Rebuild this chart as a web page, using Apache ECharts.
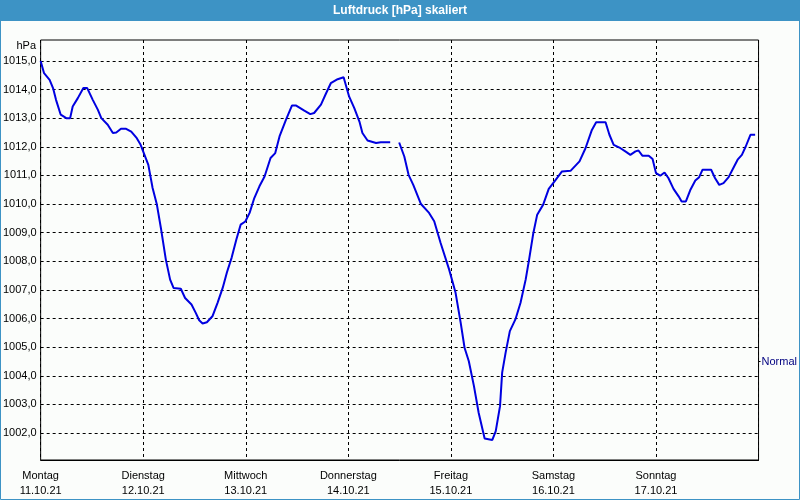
<!DOCTYPE html>
<html>
<head>
<meta charset="utf-8">
<script src="https://cdn.jsdelivr.net/npm/echarts@6/dist/echarts.min.js"></script>
<style>
html,body{margin:0;padding:0;background:#fbfdfb;}
#chart{width:800px;height:500px;}
</style>
</head>
<body>
<div id="chart"></div>
<script>
// hours since Monday 11.10.21 00:00
var hours = [0,0.8,2.1,2.9,3.6,4.7,6.0,6.9,7.5,8.7,10.0,10.9,12.2,13.4,14.2,15.7,16.9,17.7,18.8,20.0,21.2,22.5,23.4,
  24.3,25.2,26.2,27.2,28.2,29.3,30.3,31.1,32.8,33.8,35.3,36.3,37.1,37.9,38.9,40.2,41.4,42.6,43.6,44.7,45.8,46.8,47.9,
  48.9,50.0,51.2,52.4,53.8,54.9,55.9,57.4,58.8,59.8,61.7,63.1,64.0,65.6,66.8,67.9,69.5,70.9,
  72.2,73.4,74.6,75.3,76.5,78.5,79.6,81.8,82.8,83.9,85.1,86.1,87.2,89.0,90.9,92.1,93.6,95.6,
  97.1,98.3,99.2,100.2,101.4,102.5,103.9,105.7,106.5,107.5,108.0,108.8,109.8,111.1,112.3,113.5,114.3,115.3,116.2,117.6,118.9,
  120.3,122.0,124.0,126.1,127.5,129.0,130.0,132.2,133.1,134.1,135.7,137.0,138.0,139.2,139.9,140.8,142.3,143.2,
  144.0,145.0,146.0,146.9,148.1,149.3,150.0,151.0,152.0,153.2,154.1,154.9,156.9,157.8,158.8,159.8,161.0,162.1,163.1,164.1,165.0,166.1,167.2];
var pressure = [1015.0,1014.57,1014.34,1014.05,1013.64,1013.12,1013.0,1013.0,1013.41,1013.70,1014.05,1014.05,1013.64,1013.29,1013.0,1012.77,1012.48,1012.50,1012.63,1012.63,1012.53,1012.30,1012.07,
  1011.72,1011.37,1010.56,1009.98,1009.11,1008.06,1007.36,1007.07,1007.04,1006.72,1006.49,1006.20,1005.94,1005.83,1005.87,1006.08,1006.55,1007.07,1007.62,1008.13,1008.76,1009.28,1009.39,
  1009.69,1010.21,1010.62,1010.96,1011.61,1011.78,1012.36,1012.94,1013.44,1013.44,1013.26,1013.14,1013.18,1013.47,1013.87,1014.22,1014.36,1014.43,
  1013.75,1013.35,1012.88,1012.48,1012.22,1012.13,1012.16,1012.16,null,1012.15,1011.66,1011.02,1010.67,1010.0,1009.69,1009.40,1008.64,1007.71,
  1006.90,1005.85,1004.98,1004.51,1003.64,1002.71,1001.81,1001.76,1002.07,1002.94,1004.11,1004.80,1005.56,1005.97,1006.55,1007.36,1008.06,1008.99,1009.63,1009.98,1010.53,
  1010.80,1011.14,1011.16,1011.49,1011.95,1012.59,1012.86,1012.86,1012.42,1012.07,1011.95,1011.82,1011.72,1011.84,1011.87,1011.69,1011.69,1011.57,
  1011.08,1010.99,1011.10,1010.91,1010.53,1010.27,1010.09,1010.09,1010.48,1010.82,1010.94,1011.20,1011.20,1010.91,1010.67,1010.73,1010.94,1011.26,1011.55,1011.72,1012.01,1012.42,1012.42];
var dayNames = ['Montag','Dienstag','Mittwoch','Donnerstag','Freitag','Samstag','Sonntag'];
var dayDates = ['11.10.21','12.10.21','13.10.21','14.10.21','15.10.21','16.10.21','17.10.21'];
var yTicks = [1002,1003,1004,1005,1006,1007,1008,1009,1010,1011,1012,1013,1014,1015];
var normalValue = [1004.5];
var yMin = 1001.06, yMax = 1015.73;

var data = hours.map(function(h,i){ return [h, pressure[i]]; });
var font = '"Liberation Sans", Arial, sans-serif';

var chart = echarts.init(document.getElementById('chart'), null, {renderer:'canvas'});
chart.setOption({
  backgroundColor: '#fbfdfb',
  animation: false,
  textStyle: {fontFamily: font},
  graphic: [
    {type:'rect', shape:{x:0,y:0,width:800,height:21}, style:{fill:'#3d93c5'}, z:0},
    {type:'rect', shape:{x:0.5,y:0.5,width:799,height:499}, style:{fill:null, stroke:'#3d93c5', lineWidth:1}, z:0},
    {type:'text', x:400, y:11, style:{text:'Luftdruck [hPa] skaliert', fill:'#ffffff', font:'bold 12px '+font, align:'center', verticalAlign:'middle'}, z:5},
    {type:'text', x:36, y:46, style:{text:'hPa', fill:'#000000', font:'11px '+font, align:'right', verticalAlign:'middle'}, z:5}
  ],
  grid: {left:40, top:40, width:720, height:420, show:true, borderColor:'#000', borderWidth:1, backgroundColor:'#fbfdfb'},
  xAxis: {
    type:'value', min:0, max:168, interval:24,
    axisLine:{show:true, lineStyle:{color:'#000', width:1}},
    axisTick:{show:false},
    splitLine:{show:true, lineStyle:{color:'#000', type:[3,3], width:1}},
    axisLabel:{
      color:'#000', fontSize:11, fontFamily:font, lineHeight:15, margin:8,
      showMaxLabel:false,
      formatter:function(v){ var i=Math.round(v/24); return i<dayNames.length ? dayNames[i]+'\n'+dayDates[i] : ''; }
    }
  },
  yAxis: [{
    type:'value', min:yMin, max:yMax,
    axisLine:{show:false},
    axisTick:{show:false, customValues: yTicks},
    splitLine:{show:true, lineStyle:{color:'#000', type:[3,3], width:1}},
    axisLabel:{color:'#000', fontSize:11, fontFamily:font, margin:4, customValues: yTicks,
      formatter:function(v){ return v.toFixed(1).replace('.', ','); }}
  },{
    type:'value', min:yMin, max:yMax, position:'right',
    axisLine:{show:false},
    splitLine:{show:false},
    axisTick:{show:true, length:2, customValues: normalValue, lineStyle:{color:'#000'}},
    axisLabel:{color:'#000080', fontSize:11, fontFamily:font, margin:3, customValues: normalValue,
      formatter:function(){ return 'Normal'; }}
  }],
  series: [{
    type:'line', data:data, showSymbol:false, connectNulls:false,
    lineStyle:{color:'#0000e0', width:2}, itemStyle:{color:'#0000e0'}, z:3
  }]
});
</script>
</body>
</html>
